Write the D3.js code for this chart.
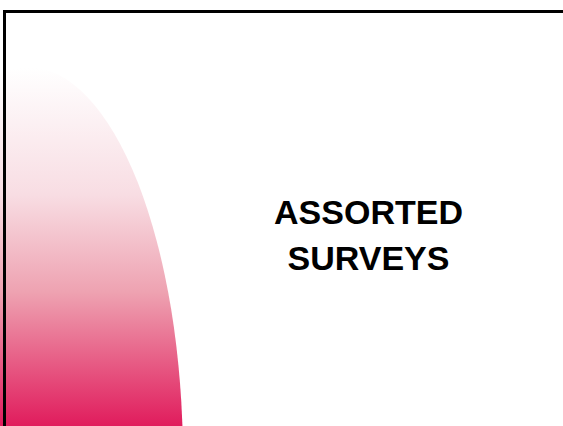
<!DOCTYPE html>
<html>
<head>
<meta charset="utf-8">
<script src="https://cdn.jsdelivr.net/npm/d3@7"></script>
<style>
html,body{margin:0;padding:0;background:#fff;overflow:hidden;}
svg{display:block;}
</style>
</head>
<body>
<script>
const titleLines = ["ASSORTED", "SURVEYS"];
const gradientStops = [
  {offset: 0, color: "#ffffff"},
  {offset: 0.35, color: "#f8dde3"},
  {offset: 0.62, color: "#eea2b1"},
  {offset: 1, color: "#e0185a"}
];

const W = 563, H = 426;
const svg = d3.select("body").append("svg").attr("width", W).attr("height", H);

const defs = svg.append("defs");
const grad = defs.append("linearGradient").attr("id", "pinkGrad")
  .attr("gradientUnits", "userSpaceOnUse")
  .attr("x1", 0).attr("y1", 68).attr("x2", 0).attr("y2", 430);
grad.selectAll("stop").data(gradientStops).join("stop")
  .attr("offset", d => d.offset).attr("stop-color", d => d.color);

svg.append("rect").attr("width", W).attr("height", H).attr("fill", "#fff");

svg.append("ellipse")
  .attr("cx", 28).attr("cy", 460).attr("rx", 155).attr("ry", 393)
  .attr("fill", "url(#pinkGrad)");

// frame
svg.append("rect")
  .attr("x", 4.5).attr("y", 11.5).attr("width", W + 20).attr("height", H + 20)
  .attr("fill", "none").attr("stroke", "#000").attr("stroke-width", 3);

svg.append("g").selectAll("text").data(titleLines).join("text")
  .attr("x", 368.5).attr("y", (d, i) => 223.5 + i * 46)
  .attr("text-anchor", "middle")
  .attr("font-family", "Liberation Sans, Arial, sans-serif")
  .attr("font-weight", "bold").attr("font-size", 34)
  .attr("fill", "#000")
  .text(d => d);
</script>
</body>
</html>
